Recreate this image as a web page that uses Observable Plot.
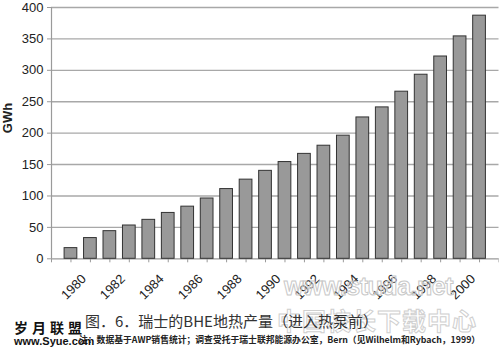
<!DOCTYPE html>
<html><head><meta charset="utf-8">
<script src="https://cdn.jsdelivr.net/npm/d3@7"></script>
<script src="https://cdn.jsdelivr.net/npm/@observablehq/plot@0.6"></script>
<style>
body{margin:0;background:#fff;}
#wrap{position:relative;width:499px;height:354px;overflow:hidden;background:#fff;}
#wrap svg{position:absolute;left:0;top:0;}
.t{position:absolute;white-space:nowrap;}
</style></head><body><div id="wrap"></div>
<script>
const years = [1980,1981,1982,1983,1984,1985,1986,1987,1988,1989,1990,1991,1992,1993,1994,1995,1996,1997,1998,1999,2000,2001];
const values = [17,33,44,53,62,73,83,96,111,126,140,154,167,180,196,225,241,266,293,322,354,387];
const yTicks = [0,50,100,150,200,250,300,350,400];
const tickYears = d3.range(1979, 2003);
const labelYears = [1980,1982,1984,1986,1988,1990,1992,1994,1996,1998,2000];
const yLabel = "GWh";
const title = "图．6．瑞士的BHE地热产量（进入热泵前）";
const note = "注：数据基于AWP销售统计；调查受托于瑞士联邦能源办公室，Bern（见Wilhelm和Rybach，1999）";
const wm1 = "岁月联盟";
const wm2 = "www.Syue.com";
const wm3 = "中国校长下载中心";
const wm4 = "www.studa.net";

const data = years.map((year, i) => ({year, value: values[i]}));

const chart = Plot.plot({
  width: 499, height: 305,
  marginLeft: 51, marginRight: 0.5, marginTop: 7, marginBottom: 46.7,
  style: {fontFamily: "'Liberation Sans', Arial, sans-serif", background: "#fff", color: "#222"},
  x: {type: "linear", domain: [1979, 2002], axis: null},
  y: {domain: [0, 400], axis: null},
  marks: [
    Plot.ruleY(yTicks.slice(1), {stroke: "#a8a8a8", strokeWidth: 1.4}),
    Plot.ruleY([0], {stroke: "#9a9a9a", strokeWidth: 1.2}),
    Plot.ruleX([1979], {stroke: "#9a9a9a", strokeWidth: 1.2}),
    Plot.axisX({ticks: tickYears, tickSize: 4, tickFormat: () => "", stroke: "#9a9a9a", label: null}),
    Plot.axisY({ticks: yTicks, tickSize: 4, tickPadding: 4, fontSize: 13, stroke: "#9a9a9a", fill: "#222", label: null}),
    Plot.rectY(data, {x1: d => d.year - 0.327, x2: d => d.year + 0.327, y: "value", fill: "#999999", stroke: "#333", strokeWidth: 1}),
    Plot.text(labelYears, {x: d => d, text: d => String(d), frameAnchor: "bottom", rotate: -45, textAnchor: "end", lineAnchor: "middle", dx: 13, dy: 18, fontSize: 13, fill: "#222"}),
    Plot.text([yLabel], {frameAnchor: "left", dx: -44, rotate: -90, fontWeight: "bold", fontSize: 13, fill: "#222"})
  ]
});
const wrap = document.getElementById("wrap");
wrap.appendChild(chart);

function addText(txt, css) {
  const d = document.createElement("div");
  d.className = "t";
  d.textContent = txt;
  Object.assign(d.style, css);
  wrap.appendChild(d);
}
addText(wm4, {left: "284px", top: "274px", fontFamily: "'Liberation Sans', Arial, sans-serif", fontWeight: "bold", fontSize: "25px", lineHeight: "25px", color: "rgba(255,255,255,0.3)", webkitTextStroke: "1px #c8c8c8", letterSpacing: "-0.5px"});
addText(wm3, {left: "277px", top: "307px", fontFamily: "'Noto Sans CJK SC', sans-serif", fontWeight: "bold", fontSize: "24px", lineHeight: "26px", color: "rgba(255,255,255,0.3)", webkitTextStroke: "1px #cfcfcf", letterSpacing: "1px"});
addText(title, {left: "85px", top: "313px", fontFamily: "'Noto Sans CJK SC', sans-serif", fontSize: "15px", lineHeight: "16px", color: "#333"});
addText(note, {left: "79px", top: "335px", fontFamily: "'Noto Sans CJK SC', sans-serif", fontWeight: "bold", fontSize: "8.8px", lineHeight: "10px", color: "#222"});
addText(wm1, {left: "14px", top: "320px", fontFamily: "'Noto Sans CJK SC', sans-serif", fontWeight: "bold", fontSize: "14px", lineHeight: "15px", color: "#111", letterSpacing: "4px"});
addText(wm2, {left: "14px", top: "335px", fontFamily: "'Liberation Sans', Arial, sans-serif", fontWeight: "bold", fontSize: "11px", lineHeight: "12px", color: "#111"});
</script>
</body></html>
